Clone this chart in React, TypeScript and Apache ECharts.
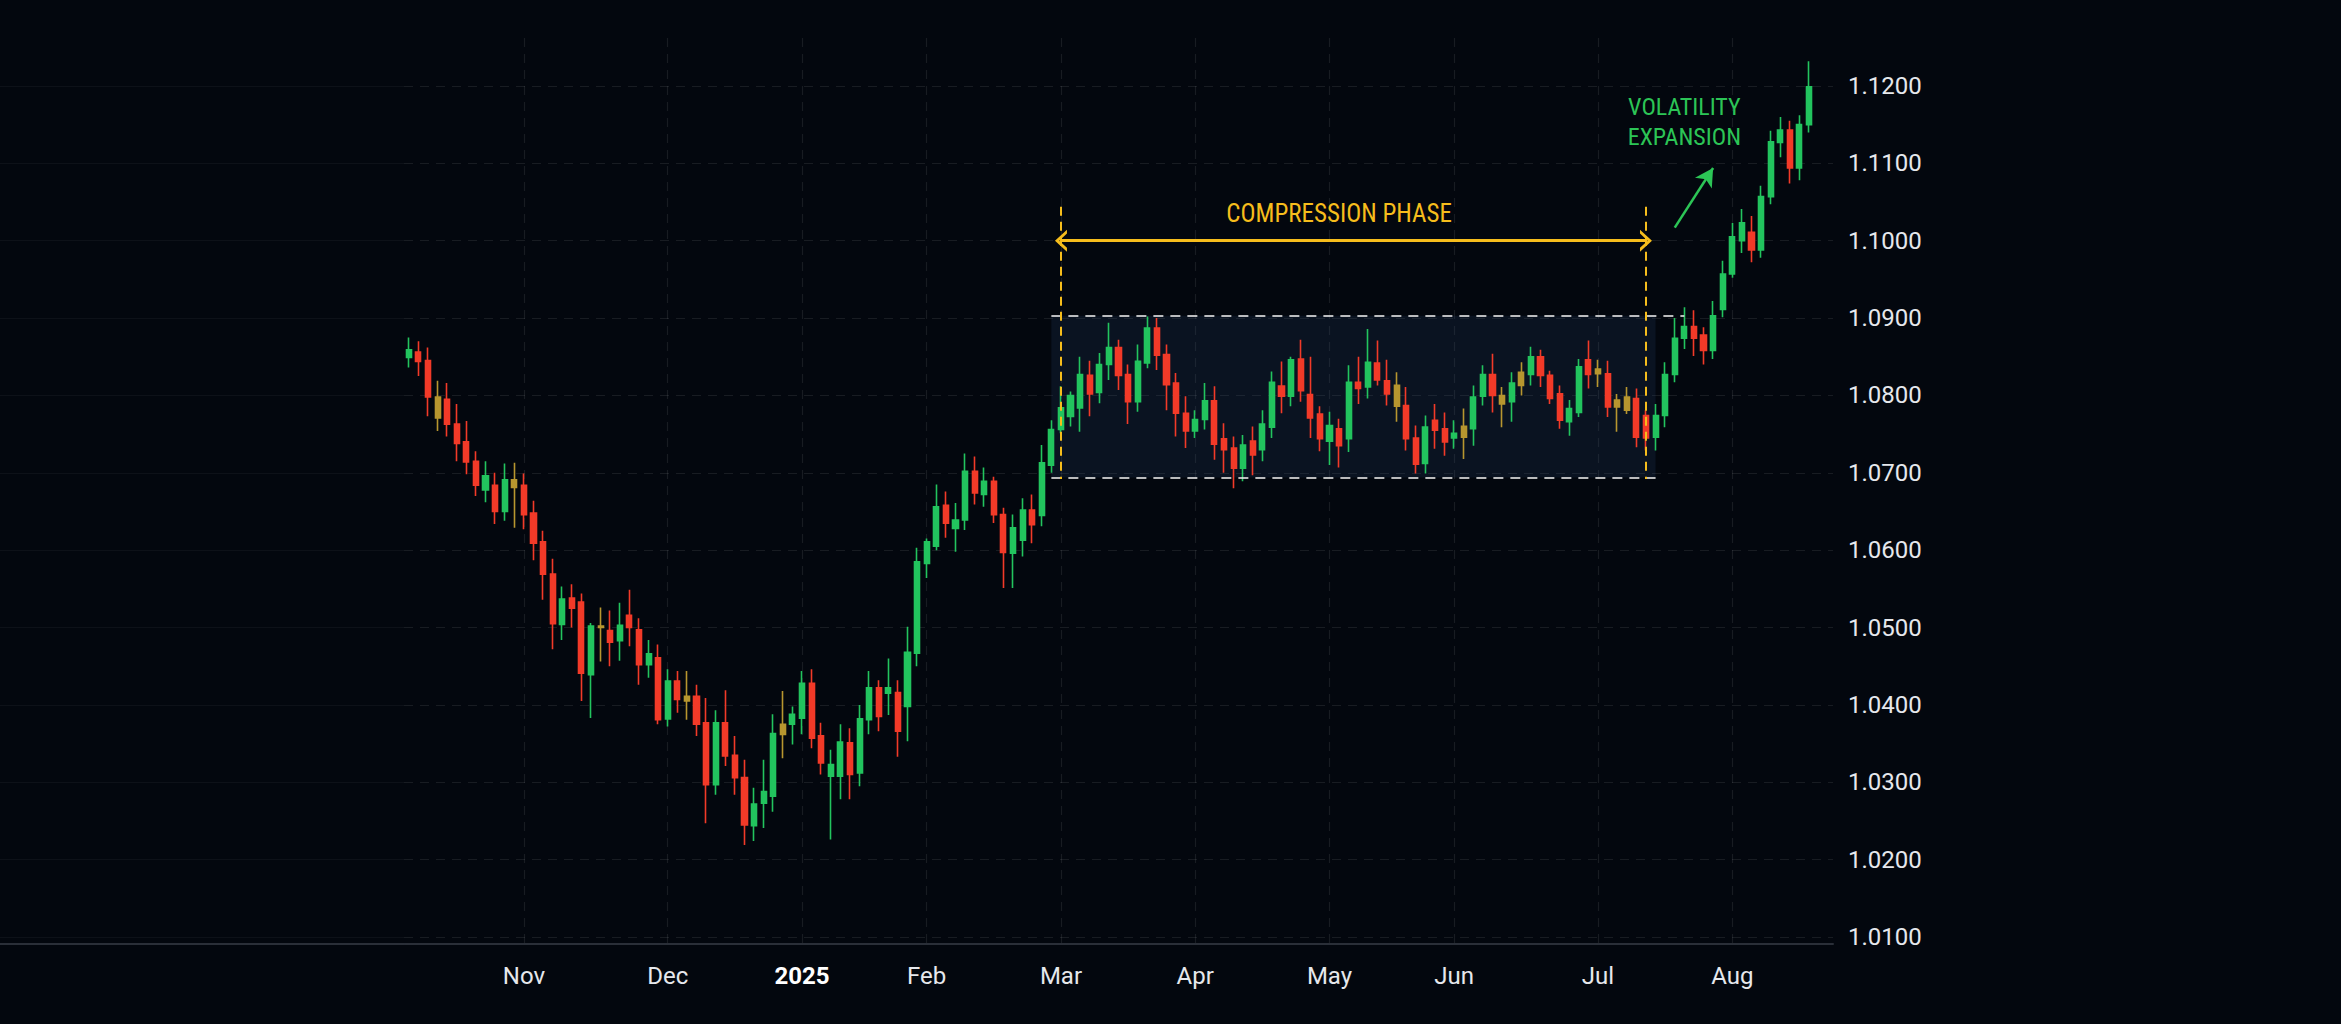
import React, { useEffect, useRef } from 'react';
import * as echarts from 'echarts';

// ---------- categories (one per candle) ----------
const octDates = ['2024-10-08','2024-10-09','2024-10-10','2024-10-11','2024-10-14','2024-10-15','2024-10-17','2024-10-18','2024-10-21','2024-10-23','2024-10-25','2024-10-29'];
const novDates = ['2024-11-01','2024-11-04','2024-11-05','2024-11-06','2024-11-07','2024-11-08','2024-11-11','2024-11-13','2024-11-14','2024-11-15','2024-11-18','2024-11-20','2024-11-22','2024-11-26','2024-11-28'];
const decDates = ['2024-12-02','2024-12-03','2024-12-05','2024-12-06','2024-12-09','2024-12-10','2024-12-12','2024-12-13','2024-12-16','2024-12-17','2024-12-19','2024-12-20','2024-12-23','2024-12-27'];
const janDates = ['2025-01-02','2025-01-03','2025-01-06','2025-01-08','2025-01-09','2025-01-13','2025-01-14','2025-01-16','2025-01-17','2025-01-21','2025-01-23','2025-01-27','2025-01-29'];
const febDates = ['2025-02-03','2025-02-04','2025-02-05','2025-02-06','2025-02-07','2025-02-10','2025-02-11','2025-02-13','2025-02-14','2025-02-18','2025-02-19','2025-02-21','2025-02-25','2025-02-27'];
const marDates = ['2025-03-03','2025-03-04','2025-03-05','2025-03-07','2025-03-10','2025-03-11','2025-03-13','2025-03-14','2025-03-18','2025-03-19','2025-03-21','2025-03-24','2025-03-26','2025-03-28'];
const aprDates = ['2025-04-01','2025-04-02','2025-04-03','2025-04-04','2025-04-07','2025-04-08','2025-04-10','2025-04-11','2025-04-15','2025-04-16','2025-04-22','2025-04-24','2025-04-25','2025-04-29'];
const mayDates = ['2025-05-01','2025-05-02','2025-05-06','2025-05-07','2025-05-08','2025-05-09','2025-05-13','2025-05-14','2025-05-16','2025-05-19','2025-05-21','2025-05-23','2025-05-27'];
const junDates = ['2025-06-02','2025-06-03','2025-06-04','2025-06-06','2025-06-09','2025-06-10','2025-06-12','2025-06-13','2025-06-16','2025-06-17','2025-06-19','2025-06-20','2025-06-23','2025-06-25','2025-06-27'];
const julDates = ['2025-07-01','2025-07-02','2025-07-03','2025-07-07','2025-07-08','2025-07-10','2025-07-11','2025-07-14','2025-07-16','2025-07-18','2025-07-21','2025-07-23','2025-07-25','2025-07-29'];
const augDates = ['2025-08-01','2025-08-04','2025-08-05','2025-08-06','2025-08-07','2025-08-08','2025-08-11','2025-08-12','2025-08-13'];
const emptyDates = ['2025-08-14','2025-08-15'];

// ---------- candles: [open, close, low, high] ----------
const octCandles = [
  [1.0849,1.0859,1.0836,1.0875],[1.0856,1.0844,1.0825,1.0870],[1.0845,1.0798,1.0773,1.0862],[1.0771,1.0798,1.0754,1.0819],
  [1.0795,1.0763,1.0747,1.0816],[1.0763,1.0738,1.0715,1.0789],[1.0740,1.0714,1.0698,1.0767],[1.0715,1.0684,1.0670,1.0728],
  [1.0678,1.0696,1.0662,1.0715],[1.0684,1.0650,1.0634,1.0700],[1.0650,1.0691,1.0638,1.0712],[1.0691,1.0681,1.0629,1.0713],
];
const novCandles = [
  [1.0684,1.0646,1.0627,1.0699],[1.0648,1.0609,1.0587,1.0664],[1.0611,1.0569,1.0536,1.0625],[1.0569,1.0505,1.0472,1.0589],
  [1.0504,1.0537,1.0484,1.0553],[1.0538,1.0525,1.0500,1.0556],[1.0533,1.0441,1.0405,1.0544],[1.0439,1.0502,1.0383,1.0506],
  [1.0502,1.0500,1.0456,1.0526],[1.0496,1.0481,1.0450,1.0522],[1.0483,1.0503,1.0457,1.0532],[1.0516,1.0500,1.0476,1.0549],
  [1.0497,1.0452,1.0426,1.0512],[1.0452,1.0466,1.0435,1.0484],[1.0461,1.0381,1.0375,1.0478],
];
const decCandles = [
  [1.0382,1.0431,1.0372,1.0446],[1.0431,1.0407,1.0390,1.0444],[1.0411,1.0405,1.0381,1.0444],[1.0411,1.0375,1.0360,1.0426],
  [1.0377,1.0297,1.0247,1.0409],[1.0297,1.0377,1.0284,1.0393],[1.0377,1.0334,1.0321,1.0419],[1.0335,1.0306,1.0284,1.0360],
  [1.0306,1.0245,1.0219,1.0329],[1.0244,1.0272,1.0224,1.0293],[1.0273,1.0288,1.0241,1.0329],[1.0282,1.0363,1.0262,1.0388],
  [1.0375,1.0362,1.0331,1.0418],[1.0375,1.0388,1.0349,1.0398],
];
const janCandles = [
  [1.0383,1.0428,1.0362,1.0444],[1.0428,1.0357,1.0344,1.0446],[1.0360,1.0325,1.0310,1.0377],[1.0308,1.0323,1.0226,1.0342],
  [1.0308,1.0352,1.0278,1.0375],[1.0351,1.0310,1.0278,1.0370],[1.0312,1.0382,1.0295,1.0400],[1.0381,1.0422,1.0362,1.0444],
  [1.0422,1.0385,1.0366,1.0432],[1.0415,1.0422,1.0387,1.0460],[1.0416,1.0366,1.0333,1.0432],[1.0398,1.0468,1.0353,1.0501],
  [1.0467,1.0585,1.0450,1.0603],
];
const febCandles = [
  [1.0583,1.0611,1.0564,1.0615],[1.0605,1.0656,1.0600,1.0685],[1.0658,1.0635,1.0616,1.0676],[1.0628,1.0639,1.0598,1.0661],
  [1.0639,1.0702,1.0626,1.0725],[1.0702,1.0674,1.0659,1.0721],[1.0672,1.0689,1.0656,1.0707],[1.0689,1.0646,1.0635,1.0695],
  [1.0646,1.0597,1.0551,1.0655],[1.0596,1.0629,1.0551,1.0646],[1.0613,1.0652,1.0592,1.0667],[1.0652,1.0633,1.0609,1.0672],
  [1.0645,1.0713,1.0631,1.0736],[1.0710,1.0756,1.0700,1.0768],
];
const marCandles = [
  [1.0756,1.0784,1.0751,1.0812],[1.0773,1.0800,1.0760,1.0805],[1.0784,1.0827,1.0753,1.0850],[1.0826,1.0802,1.0773,1.0845],
  [1.0804,1.0840,1.0790,1.0855],[1.0840,1.0862,1.0820,1.0894],[1.0862,1.0826,1.0807,1.0872],[1.0827,1.0792,1.0763,1.0840],
  [1.0792,1.0844,1.0779,1.0866],[1.0842,1.0887,1.0835,1.0902],[1.0887,1.0852,1.0833,1.0900],[1.0853,1.0814,1.0781,1.0866],
  [1.0816,1.0777,1.0747,1.0829],[1.0777,1.0754,1.0732,1.0799],
];
const aprCandles = [
  [1.0754,1.0769,1.0745,1.0781],[1.0769,1.0793,1.0756,1.0816],[1.0793,1.0737,1.0717,1.0812],[1.0744,1.0730,1.0700,1.0764],
  [1.0732,1.0706,1.0680,1.0747],[1.0706,1.0736,1.0689,1.0749],[1.0741,1.0723,1.0697,1.0760],[1.0730,1.0763,1.0715,1.0781],
  [1.0759,1.0817,1.0745,1.0831],[1.0812,1.0799,1.0777,1.0844],[1.0799,1.0846,1.0786,1.0850],[1.0847,1.0806,1.0792,1.0872],
  [1.0801,1.0771,1.0745,1.0850],[1.0776,1.0744,1.0728,1.0786],
];
const mayCandles = [
  [1.0741,1.0761,1.0710,1.0779],[1.0757,1.0735,1.0707,1.0770],[1.0744,1.0817,1.0727,1.0839],[1.0817,1.0809,1.0789,1.0850],
  [1.0811,1.0843,1.0796,1.0886],[1.0842,1.0820,1.0813,1.0871],[1.0819,1.0802,1.0787,1.0846],[1.0813,1.0786,1.0766,1.0830],
  [1.0787,1.0744,1.0729,1.0811],[1.0745,1.0711,1.0699,1.0761],[1.0712,1.0759,1.0699,1.0774],[1.0768,1.0755,1.0731,1.0789],
  [1.0757,1.0740,1.0722,1.0778],
];
const junCandles = [
  [1.0745,1.0751,1.0731,1.0768],[1.0746,1.0760,1.0718,1.0783],[1.0757,1.0798,1.0735,1.0813],[1.0799,1.0827,1.0787,1.0839],
  [1.0827,1.0800,1.0778,1.0854],[1.0789,1.0800,1.0759,1.0811],[1.0792,1.0816,1.0766,1.0830],[1.0813,1.0830,1.0800,1.0843],
  [1.0827,1.0850,1.0813,1.0863],[1.0850,1.0826,1.0811,1.0859],[1.0826,1.0796,1.0789,1.0832],[1.0802,1.0768,1.0757,1.0813],
  [1.0766,1.0783,1.0748,1.0794],[1.0778,1.0837,1.0772,1.0847],[1.0846,1.0827,1.0809,1.0871],
];
const julCandles = [
  [1.0834,1.0828,1.0811,1.0846],[1.0828,1.0785,1.0772,1.0845],[1.0785,1.0794,1.0753,1.0802],[1.0781,1.0798,1.0776,1.0811],
  [1.0796,1.0746,1.0733,1.0809],[1.0774,1.0745,1.0729,1.0781],[1.0746,1.0774,1.0729,1.0789],[1.0774,1.0827,1.0759,1.0843],
  [1.0827,1.0874,1.0817,1.0900],[1.0874,1.0889,1.0860,1.0914],[1.0889,1.0874,1.0851,1.0910],[1.0878,1.0858,1.0840,1.0888],
  [1.0858,1.0903,1.0847,1.0922],[1.0911,1.0957,1.0901,1.0974],
];
const augCandles = [
  [1.0957,1.1005,1.0952,1.1023],[1.1000,1.1023,1.0984,1.1041],[1.1011,1.0988,1.0972,1.1032],[1.0988,1.1057,1.0978,1.1071],
  [1.1057,1.1128,1.1047,1.1142],[1.1127,1.1143,1.1108,1.1160],[1.1143,1.1094,1.1074,1.1155],[1.1094,1.1150,1.1078,1.1162],
  [1.1150,1.1199,1.1140,1.1232],
];

// candles drawn with a muted, mixed colour in the picture
const mixedCandleIdx = [3, 11, 20, 29, 39, 103, 110, 114, 116, 124, 126, 127];

// ---------- axis ticks ----------
const priceTicks = [1.01, 1.02, 1.03, 1.04, 1.05, 1.06, 1.07, 1.08, 1.09, 1.10, 1.11, 1.12];
const priceMin = 1.0091;
const priceMax = 1.1262;
const monthNames = ['Jan','Feb','Mar','Apr','May','Jun','Jul','Aug','Sep','Oct','Nov','Dec'];

// ---------- annotations (dates / price levels) ----------
const rangeHigh = 1.0903;
const rangeLow = 1.0694;
const rangeStart = '2025-02-27';
const rangeEnd = '2025-07-11';
const rangeHighEnd = '2025-07-18';
const phaseStart = '2025-03-03';
const phaseEnd = '2025-07-10';
const phaseTop = 1.1044;
const phaseBottom = 1.0692;
const phaseArrowLevel = 1.1;
const phaseLabelAt: [string, number] = ['2025-05-02', 1.1035];
const expansionFrom: [string, number] = ['2025-07-16', 1.1017];
const expansionTo: [string, number] = ['2025-07-25', 1.1094];
const expansionLabelAt: [string, number] = ['2025-07-18', 1.1153];

const dates = [...octDates, ...novDates, ...decDates, ...janDates, ...febDates, ...marDates, ...aprDates, ...mayDates, ...junDates, ...julDates, ...augDates, ...emptyDates];
const candles = [...octCandles, ...novCandles, ...decCandles, ...janCandles, ...febCandles, ...marCandles, ...aprCandles, ...mayCandles, ...junCandles, ...julCandles, ...augCandles];

const UP = '#22c45e';
const DOWN = '#f23a28';
const MIXED = '#b7962f';
const YELLOW = '#f6bd1c';
const GREEN = '#2cc556';
const BG = '#03070e';
const TEXT = '#e6e8ec';
const GRID = 'rgba(255,255,255,0.085)';
const AXIS = '#2a2f38';
const NARROW = "'Liberation Sans Narrow', 'Roboto Condensed', Roboto, sans-serif";
const SANS = "Roboto, 'Noto Sans', sans-serif";

const monthStart = new Set<number>();
dates.forEach((d, i) => {
  if (i > 0 && d.slice(0, 7) !== dates[i - 1].slice(0, 7) && i < candles.length) monthStart.add(i);
});

const chevron = 'path://M10,0 L20,10 L16.5,10 L10,3.6 L3.5,10 L0,10 Z';

export default function App() {
  const ref = useRef<HTMLDivElement>(null);

  useEffect(() => {
    document.body.style.margin = '0';
    document.body.style.background = BG;
    if (!ref.current) return;
    const chart = echarts.init(ref.current, undefined, { renderer: 'svg' });

    const candleData = candles.map((c, i) =>
      mixedCandleIdx.includes(i)
        ? { value: c, itemStyle: { color: MIXED, color0: MIXED, borderColor: MIXED, borderColor0: MIXED } }
        : c
    );

    const dashedWhite = { color: 'rgba(232,232,232,0.8)', width: 2, type: [10, 7] };
    const dashedYellow = { color: YELLOW, width: 2, type: [9, 6] };

    chart.setOption({
      animation: false,
      backgroundColor: BG,
      grid: [
        { left: 404, right: 508, top: 38, bottom: 80 },
        { left: 0, width: 404, top: 38, bottom: 80 },
      ],
      xAxis: [
        {
          type: 'category',
          gridIndex: 0,
          data: dates,
          boundaryGap: true,
          axisLine: { show: true, lineStyle: { color: AXIS, width: 2 } },
          axisTick: { show: false },
          axisLabel: {
            interval: (i: number) => monthStart.has(i),
            formatter: (v: string) => {
              const m = Number(v.slice(5, 7));
              return m === 1 ? `{yr|${v.slice(0, 4)}}` : monthNames[m - 1];
            },
            color: TEXT,
            fontSize: 24,
            fontFamily: SANS,
            margin: 20,
            rich: { yr: { fontWeight: 'bold', fontSize: 24, color: '#ffffff', fontFamily: SANS } },
          },
          splitLine: {
            show: true,
            interval: (i: number) => monthStart.has(i),
            alignWithLabel: true,
            lineStyle: { color: GRID, width: 1.2, type: [9, 7] },
          },
        },
        {
          type: 'value',
          gridIndex: 1,
          min: 0,
          max: 1,
          axisLine: { show: true, onZero: false, lineStyle: { color: AXIS, width: 2 } },
          axisTick: { show: false },
          axisLabel: { show: false },
          splitLine: { show: false },
        },
      ],
      yAxis: [
        {
          type: 'value',
          gridIndex: 0,
          position: 'right',
          min: priceMin,
          max: priceMax,
          axisLine: { show: false },
          axisTick: { show: false, customValues: priceTicks },
          axisLabel: {
            customValues: priceTicks,
            formatter: (v: number) => v.toFixed(4),
            color: TEXT,
            fontSize: 24,
            fontFamily: SANS,
            margin: 15,
          },
          splitLine: { show: true, lineStyle: { color: GRID, width: 1.2, type: [9, 7] } },
        },
        {
          type: 'value',
          gridIndex: 1,
          min: priceMin,
          max: priceMax,
          axisLine: { show: false },
          axisTick: { show: false, customValues: priceTicks },
          axisLabel: { show: false },
          splitLine: { show: true, lineStyle: { color: 'rgba(255,255,255,0.045)', width: 1.2 } },
        },
      ],
      series: [
        {
          type: 'candlestick',
          xAxisIndex: 0,
          yAxisIndex: 0,
          data: candleData,
          barWidth: 5.6,
          clip: false,
          itemStyle: { color: UP, color0: DOWN, borderColor: UP, borderColor0: DOWN, borderWidth: 1.6 },
          markArea: {
            silent: true,
            itemStyle: { color: 'rgba(40,70,110,0.2)' },
            data: [[{ xAxis: rangeStart, yAxis: rangeHigh }, { xAxis: rangeEnd, yAxis: rangeLow }]],
          },
          markLine: {
            silent: true,
            symbol: ['none', 'none'],
            label: { show: false },
            data: [
              [{ coord: [rangeStart, rangeHigh], lineStyle: dashedWhite }, { coord: [rangeHighEnd, rangeHigh] }],
              [{ coord: [rangeStart, rangeLow], lineStyle: dashedWhite }, { coord: [rangeEnd, rangeLow] }],
              [{ coord: [phaseStart, phaseTop], lineStyle: dashedYellow }, { coord: [phaseStart, phaseBottom] }],
              [{ coord: [phaseEnd, phaseTop], lineStyle: dashedYellow }, { coord: [phaseEnd, phaseBottom] }],
              [
                { coord: [phaseStart, phaseArrowLevel], symbol: chevron, symbolSize: [22, 12], lineStyle: { color: YELLOW, width: 3, type: 'solid' } },
                { coord: [phaseEnd, phaseArrowLevel], symbol: chevron, symbolSize: [22, 12] },
              ],
              [
                { coord: expansionFrom, symbol: 'none', lineStyle: { color: GREEN, width: 2.5, type: 'solid' } },
                { coord: expansionTo, symbol: 'arrow', symbolSize: [15, 18] },
              ],
            ],
          },
          markPoint: {
            silent: true,
            symbol: 'circle',
            symbolSize: 1,
            itemStyle: { color: 'rgba(0,0,0,0)' },
            data: [
              {
                coord: phaseLabelAt,
                label: { show: true, position: 'inside', formatter: 'COMPRESSION PHASE', color: YELLOW, fontSize: 25, fontFamily: NARROW },
              },
              {
                coord: expansionLabelAt,
                label: { show: true, position: 'inside', formatter: 'VOLATILITY\nEXPANSION', color: GREEN, fontSize: 24, lineHeight: 30, fontFamily: NARROW },
              },
            ],
          },
        },
      ],
    });

    return () => chart.dispose();
  }, []);

  return <div ref={ref} style={{ position: 'fixed', left: 0, top: 0, width: '100vw', height: '100vh', background: BG }} />;
}
